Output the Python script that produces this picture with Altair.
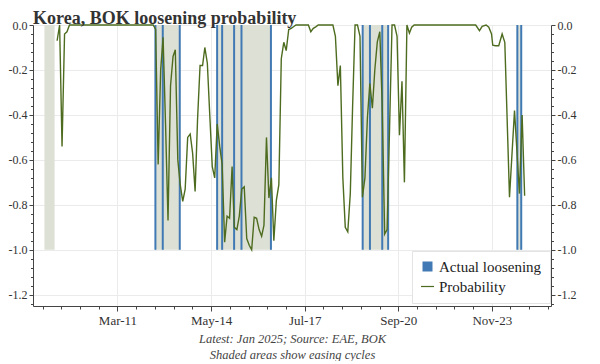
import altair as alt
import pandas as pd

TITLE = "Korea, BOK loosening probability"
FOOTER = ["Latest: Jan 2025; Source: EAE, BOK", "Shaded areas show easing cycles"]

# Easing cycles (shaded)
cycle_start = ["2008-10-09", "2012-07-12", "2014-08-14", "2019-07-18", "2024-10-11"]
cycle_end = ["2009-02-12", "2013-05-09", "2016-06-09", "2020-05-28", "2024-11-28"]

# Actual loosening decisions
cut_dates = ["2012-07-12", "2012-10-11", "2013-05-09", "2014-08-14", "2014-10-15",
             "2015-03-12", "2015-06-11", "2016-06-09", "2019-07-18", "2019-10-16",
             "2020-03-16", "2020-05-28", "2024-10-11", "2024-11-28"]

# Loosening probability
prob_dates = [
    "2009-03-15", "2009-04-15", "2009-05-15", "2009-06-15", "2009-07-15", "2009-08-15",
    "2012-06-15", "2012-07-15", "2012-08-15", "2012-09-15", "2012-10-15", "2012-11-15",
    "2012-12-15", "2013-01-15", "2013-02-15", "2013-03-15", "2013-04-15", "2013-05-15",
    "2013-06-15", "2013-07-15", "2013-08-15", "2013-09-15", "2013-10-15", "2013-11-15",
    "2013-12-15", "2014-01-15", "2014-02-15", "2014-03-15", "2014-04-15", "2014-05-15",
    "2014-06-15", "2014-07-15", "2014-08-15", "2014-09-15", "2014-10-15", "2014-11-15",
    "2014-12-15", "2015-01-15", "2015-02-15", "2015-03-15", "2015-04-15", "2015-05-15",
    "2015-06-15", "2015-07-15", "2015-08-15", "2015-09-15", "2015-10-15", "2015-11-15",
    "2015-12-15", "2016-01-15", "2016-02-15", "2016-03-15", "2016-04-15", "2016-05-15",
    "2016-06-15", "2016-07-15", "2016-08-15", "2016-09-15", "2016-10-15", "2016-11-15",
    "2016-12-15", "2017-01-15", "2017-02-15", "2017-03-15", "2017-04-15", "2017-09-15",
    "2017-10-15", "2017-11-15", "2017-12-15", "2018-01-15", "2018-07-15", "2018-08-15",
    "2018-09-15", "2018-10-15", "2018-11-15", "2018-12-15", "2019-01-15", "2019-02-15",
    "2019-03-15", "2019-04-15", "2019-05-15", "2019-06-15", "2019-07-15", "2019-08-15",
    "2019-09-15", "2019-10-15", "2019-11-15", "2019-12-15", "2020-01-15", "2020-02-15",
    "2020-03-15", "2020-04-15", "2020-05-15", "2020-06-15", "2020-07-15", "2020-08-15",
    "2020-09-15", "2020-10-15", "2020-11-15", "2020-12-15", "2021-01-15", "2021-02-15",
    "2021-03-15", "2021-04-15", "2023-05-15", "2023-07-01", "2023-08-03", "2023-09-21",
    "2023-10-24", "2023-11-27", "2023-12-12", "2024-01-15", "2024-02-24", "2024-04-06",
    "2024-05-09", "2024-07-06", "2024-09-06", "2024-11-06", "2024-12-09", "2025-01-09",
]
prob_values = [
    -0.07, 0.0, -0.54, -0.04, -0.03, 0.0,
    0.0, -0.02, -0.62, -0.20, -0.055, -0.45,
    -0.87, -0.27, -0.14, -0.11, -0.60, -0.71,
    -0.785, -0.73, -0.50, -0.485, -0.57, -0.74,
    -0.42, -0.18, -0.18, -0.10, -0.17, -0.40,
    -0.63, -0.68, -0.44, -0.54, -0.62, -0.966,
    -0.85, -0.86, -0.63, -0.90, -0.91, -0.85,
    -0.73, -0.72, -0.95, -0.98, -1.0, -0.855,
    -0.86, -0.91, -0.94, -0.89, -0.50, -0.77,
    -0.68, -0.96, -0.78, -0.71, -0.15, -0.077,
    -0.114, -0.02, -0.015, -0.008, 0.0, 0.0,
    -0.03, -0.015, -0.008, 0.0, 0.0, -0.05,
    -0.27, -0.18, -0.68, -0.90, -0.92, -0.75,
    -0.37, 0.0, 0.0, -0.05, -0.766, -0.68,
    -0.41, -0.26, -0.37, -0.20, -0.075, -0.03,
    -0.35, -0.93, -0.91, -0.45, 0.0, 0.0,
    -0.05, -0.49, -0.25, -0.70, 0.0, -0.036,
    -0.01, 0.0, 0.0, -0.025, -0.006, 0.0,
    -0.01, -0.04, -0.09, -0.092, -0.092, -0.04,
    -0.077, -0.766, -0.38, -0.75, -0.40, -0.76,
]

legend_names = ["Actual loosening", "Probability"]

x_major_ticks = ["2011-03-31", "2014-05-31", "2017-07-31", "2020-09-30", "2023-11-30"]
x_minor_per_major = 5
x_range = ["2008-05-21", "2025-12-01"]
y_range = [-1.25, 0.0]
band_top, band_bottom = 0.0, -1.0

FONT = "Liberation Serif"
BLUE = "#4079b3"
GREEN = "#4e6c1f"
SHADE = "#dde0d5"
GRID = "#ebebeb"
AXIS = "#444444"
TEXT = "#333333"


def dtime(ts):
    ts = pd.Timestamp(ts)
    return alt.DateTime(year=int(ts.year), month=int(ts.month), date=int(ts.day))


# axis tick positions: majors plus evenly spaced minor ticks between them
majors = list(pd.to_datetime(x_major_ticks))
step0 = (majors[1] - majors[0]) / x_minor_per_major
tick_times = [majors[0] - step0 * k for k in range(4, 0, -1)]
for a, b in zip(majors[:-1], majors[1:]):
    st = (b - a) / x_minor_per_major
    tick_times += [a + st * k for k in range(x_minor_per_major)]
stl = (majors[-1] - majors[-2]) / x_minor_per_major
tick_times += [majors[-1] + stl * k for k in range(0, 4)]
tick_times = [t.round("D") for t in tick_times]
major_codes = [int(t.year * 12 + t.month - 1) for t in majors]
x_test = f"indexof({major_codes}, year(datum.value)*12 + month(datum.value)) >= 0"

y_ticks = [round(-0.04 * i, 2) for i in range(32)]
y_test = "abs(datum.value*5 - round(datum.value*5)) < 0.001"

x_scale = alt.Scale(domain=[dtime(x_range[0]), dtime(x_range[1])])
y_scale = alt.Scale(domain=y_range, nice=False, zero=False)

x_axis = alt.Axis(
    values=[dtime(t) for t in tick_times],
    format="%b-%y",
    labelExpr=f"{x_test} ? datum.label : ''",
    labelOverlap=False,
    tickSize={"condition": {"test": x_test, "value": 5}, "value": 3},
    grid=True,
    gridColor=GRID,
    gridOpacity={"condition": {"test": x_test, "value": 1}, "value": 0},
    title=FOOTER,
    titleFontStyle="italic",
    titleFontWeight="normal",
    titleFontSize=12.5,
    titleColor="#444444",
    titleLineHeight=16,
    titlePadding=5,
    labelPadding=3,
    labelFontSize=13,
)


def y_axis(orient, grid):
    return alt.Axis(
        orient=orient,
        values=y_ticks,
        labelExpr=f"{y_test} ? replace(format(datum.value, '.1f'), '\u2212', '-') : ''",
        tickSize={"condition": {"test": y_test, "value": 4}, "value": 2.5},
        grid=grid,
        gridColor=GRID,
        gridOpacity={"condition": {"test": y_test, "value": 1}, "value": 0},
        title=None,
        labelPadding=2,
        labelFontSize=12,
    )


cycles_df = pd.DataFrame({"start": cycle_start, "end": cycle_end})
cuts_df = pd.DataFrame({"date": cut_dates})
prob_df = pd.DataFrame({"date": prob_dates, "value": prob_values})
legend_df = pd.DataFrame({"name": legend_names})

shading = alt.Chart(cycles_df).mark_rect(color=SHADE).encode(
    x=alt.X("start:T", scale=x_scale, axis=x_axis),
    x2="end:T",
    y=alt.YDatum(band_top, type="quantitative", scale=y_scale, axis=y_axis("left", True)),
    y2=alt.Y2Datum(band_bottom),
)

rules = alt.Chart(cuts_df).mark_rule(color=BLUE, strokeWidth=2).encode(
    x=alt.X("date:T", scale=x_scale, axis=x_axis),
    y=alt.YDatum(band_top, type="quantitative", scale=y_scale, axis=None),
    y2=alt.Y2Datum(band_bottom),
)

line = alt.Chart(prob_df).mark_line(color=GREEN, strokeWidth=1.4).encode(
    x=alt.X("date:T", scale=x_scale, axis=x_axis),
    y=alt.Y("value:Q", scale=y_scale, axis=y_axis("right", False)),
)

leg = alt.Legend(
    title=None,
    orient="none",
    legendX=379,
    legendY=226,
    padding=8,
    fillColor="white",
    strokeColor="#e3e3e3",
    labelFont=FONT,
    labelFontSize=15,
    labelColor="#222222",
    symbolSize=100,
    symbolStrokeWidth=0,
    symbolOpacity=1,
    rowPadding=4,
    labelOffset=4,
)
line_path = "M-1.3,-0.12L1.3,-0.12L1.3,0.12L-1.3,0.12Z"
legend_layer = alt.Chart(legend_df).mark_point(filled=True).encode(
    color=alt.Color("name:N", scale=alt.Scale(domain=legend_names, range=[BLUE, GREEN]), legend=leg),
    shape=alt.Shape("name:N", scale=alt.Scale(domain=legend_names, range=["square", line_path]), legend=leg),
).transform_filter("false")

chart = alt.layer(shading, rules, line, legend_layer).resolve_axis(y="independent").properties(
    width=518,
    height=281,
    padding={"left": 0, "right": 5, "top": 2, "bottom": 0},
    title=alt.TitleParams(TITLE, anchor="start", frame="group", font=FONT, fontSize=18,
                          fontWeight="bold", color=TEXT, offset=-9),
).configure_view(stroke=None).configure_axis(
    labelFont=FONT, labelColor=TEXT, domainColor=AXIS, tickColor=AXIS,
    titleFont=FONT,
)

chart.save("out.html", embed_options={"renderer": "svg", "actions": False})
